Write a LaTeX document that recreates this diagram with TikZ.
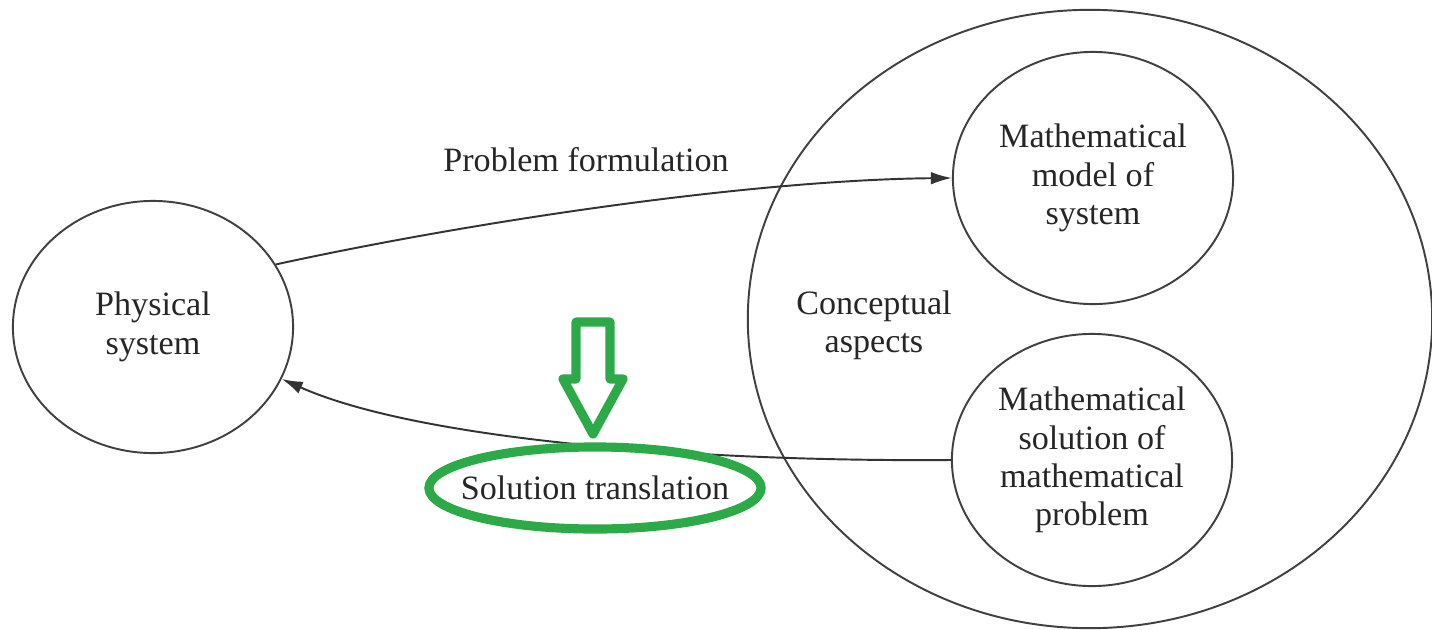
\documentclass[tikz,border=0pt]{standalone}
\usepackage{fontspec}
\setmainfont{Liberation Serif}
\usepackage{tikz}
\usetikzlibrary{shapes.geometric,arrows.meta}
\definecolor{markgreen}{RGB}{44,170,72}

\begin{document}
\begin{tikzpicture}[x=0.01cm,y=-0.01cm,
	every node/.style={font=\fontsize{9.7}{10.9}\selectfont,text=black!85},
	bubble/.style={draw=black!75,ellipse,line width=0.55pt,inner sep=0pt,minimum width=2.8cm,minimum height=2.52cm,align=center},
	link/.style={draw=black!80,line width=0.55pt,-{Latex[length=6pt,width=3.6pt]}}]
\useasboundingbox (0,0) rectangle (1432,630);

	\node[draw=black!75,ellipse,line width=0.55pt,minimum width=6.84cm,minimum height=6.18cm] (concept) at (1090,319) {};
	\node[bubble] (phys) at (153,327) {Physical\\system};
	\node[bubble] (model) at (1093,178) {Mathematical\\model of\\system};
	\node[bubble] (sol) at (1092,460) {Mathematical\\solution of\\mathematical\\problem};
	\node[align=center] (aspects) at (874,325) {Conceptual\\aspects};
	\node (formul) at (586,160) {Problem formulation};
	\node (trans) at (595,488) {Solution translation};

	\draw[link] (phys.27) .. controls (470,222) and (750,180) .. (model.west);
	\draw[link] (sol.west) .. controls (700,462) and (419,440) .. (phys.-22);

	\draw[markgreen,line width=2.6pt] (trans) ellipse [x radius=1.66cm, y radius=0.41cm];
	\draw[markgreen,line width=2.6pt,line join=round] (576,379) -- (576,322) -- (610,322) -- (610,379) -- (623,379) -- (593,434) -- (563,379) -- cycle;
\end{tikzpicture}
\end{document}
